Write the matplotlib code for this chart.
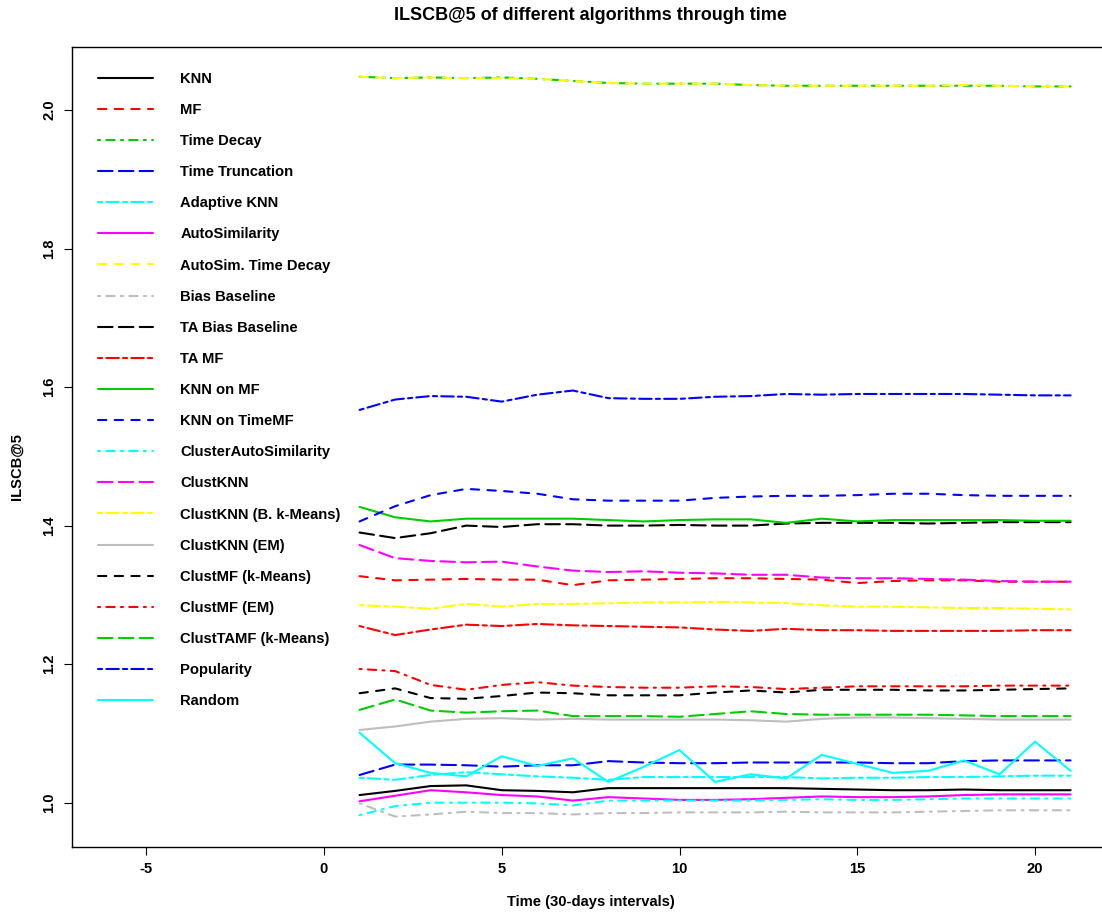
import numpy as np
from matplotlib import pyplot as plt

plt.rcParams['font.family'] = ['Liberation Sans', 'DejaVu Sans']

time = np.arange(1, 22)

names = ['KNN', 'MF', 'Time Decay', 'Time Truncation', 'Adaptive KNN',
         'AutoSimilarity', 'AutoSim. Time Decay', 'Bias Baseline',
         'TA Bias Baseline', 'TA MF', 'KNN on MF', 'KNN on TimeMF',
         'ClusterAutoSimilarity', 'ClustKNN', 'ClustKNN (B. k-Means)',
         'ClustKNN (EM)', 'ClustMF (k-Means)', 'ClustMF (EM)',
         'ClustTAMF (k-Means)', 'Popularity', 'Random']

knn = [1.011, 1.017, 1.024, 1.025, 1.018, 1.017, 1.015, 1.021, 1.021, 1.021, 1.021,
       1.021, 1.021, 1.020, 1.019, 1.018, 1.018, 1.019, 1.018, 1.018, 1.018]
mf = [1.327, 1.321, 1.322, 1.323, 1.322, 1.322, 1.314, 1.321, 1.322, 1.323, 1.324,
      1.324, 1.323, 1.322, 1.317, 1.320, 1.321, 1.321, 1.319, 1.319, 1.319]
time_decay = [2.048, 2.046, 2.047, 2.046, 2.047, 2.045, 2.042, 2.039, 2.038, 2.038, 2.038,
              2.036, 2.035, 2.035, 2.035, 2.035, 2.035, 2.035, 2.035, 2.034, 2.034]
time_trunc = [1.040, 1.055, 1.055, 1.054, 1.052, 1.054, 1.054, 1.060, 1.058, 1.057, 1.057,
              1.058, 1.058, 1.058, 1.058, 1.057, 1.057, 1.060, 1.061, 1.061, 1.061]
adaptive_knn = [1.036, 1.033, 1.040, 1.044, 1.041, 1.038, 1.036, 1.033, 1.037, 1.037, 1.037,
                1.037, 1.037, 1.035, 1.036, 1.036, 1.037, 1.037, 1.038, 1.039, 1.039]
autosim = [1.002, 1.010, 1.018, 1.015, 1.011, 1.009, 1.003, 1.008, 1.006, 1.004, 1.004,
           1.005, 1.007, 1.009, 1.008, 1.008, 1.009, 1.011, 1.012, 1.012, 1.012]
autosim_td = [2.048, 2.046, 2.047, 2.046, 2.046, 2.045, 2.042, 2.039, 2.038, 2.038, 2.038,
              2.036, 2.035, 2.035, 2.035, 2.035, 2.035, 2.036, 2.035, 2.034, 2.034]
bias_baseline = [0.999, 0.980, 0.983, 0.987, 0.985, 0.985, 0.983, 0.985, 0.985, 0.986, 0.986,
                 0.986, 0.987, 0.986, 0.986, 0.986, 0.987, 0.988, 0.989, 0.989, 0.989]
ta_bias = [1.390, 1.382, 1.389, 1.400, 1.398, 1.402, 1.402, 1.400, 1.400, 1.401, 1.400,
           1.400, 1.403, 1.404, 1.404, 1.404, 1.403, 1.404, 1.405, 1.405, 1.405]
ta_mf = [1.255, 1.242, 1.250, 1.257, 1.255, 1.258, 1.256, 1.255, 1.254, 1.253, 1.250,
         1.248, 1.251, 1.249, 1.249, 1.248, 1.248, 1.248, 1.248, 1.249, 1.249]
knn_on_mf = [1.427, 1.412, 1.406, 1.410, 1.410, 1.410, 1.410, 1.408, 1.406, 1.408, 1.409,
             1.409, 1.404, 1.410, 1.406, 1.408, 1.408, 1.408, 1.408, 1.407, 1.407]
knn_on_timemf = [1.406, 1.428, 1.444, 1.453, 1.450, 1.446, 1.438, 1.436, 1.436, 1.436, 1.440,
                 1.442, 1.443, 1.443, 1.444, 1.446, 1.446, 1.444, 1.443, 1.443, 1.443]
cluster_autosim = [0.982, 0.995, 1.000, 1.000, 1.000, 0.999, 0.996, 1.003, 1.003, 1.003, 1.003,
                   1.003, 1.004, 1.005, 1.004, 1.004, 1.005, 1.006, 1.006, 1.006, 1.006]
clust_knn = [1.372, 1.353, 1.349, 1.347, 1.348, 1.341, 1.335, 1.333, 1.334, 1.332, 1.331,
             1.329, 1.329, 1.325, 1.324, 1.324, 1.323, 1.322, 1.320, 1.319, 1.319]
clust_knn_bkm = [1.285, 1.283, 1.280, 1.287, 1.283, 1.287, 1.287, 1.288, 1.289, 1.289, 1.290,
                 1.289, 1.288, 1.285, 1.283, 1.283, 1.282, 1.281, 1.281, 1.280, 1.279]
clust_knn_em = [1.105, 1.110, 1.117, 1.121, 1.122, 1.120, 1.121, 1.120, 1.120, 1.120, 1.120,
                1.119, 1.117, 1.121, 1.123, 1.123, 1.122, 1.121, 1.120, 1.120, 1.120]
clust_mf_km = [1.158, 1.165, 1.151, 1.150, 1.154, 1.159, 1.158, 1.155, 1.155, 1.155, 1.159,
               1.162, 1.159, 1.163, 1.163, 1.163, 1.162, 1.162, 1.163, 1.164, 1.165]
clust_mf_em = [1.193, 1.190, 1.170, 1.163, 1.170, 1.174, 1.169, 1.167, 1.166, 1.166, 1.168,
               1.167, 1.164, 1.166, 1.168, 1.168, 1.168, 1.168, 1.169, 1.169, 1.169]
clust_tamf = [1.134, 1.149, 1.133, 1.130, 1.132, 1.133, 1.125, 1.125, 1.125, 1.124, 1.128,
              1.132, 1.128, 1.127, 1.127, 1.127, 1.127, 1.126, 1.125, 1.125, 1.125]
popularity = [1.567, 1.582, 1.587, 1.586, 1.579, 1.589, 1.595, 1.584, 1.583, 1.583, 1.586,
              1.587, 1.590, 1.589, 1.590, 1.590, 1.590, 1.590, 1.589, 1.588, 1.588]
random_alg = [1.101, 1.057, 1.043, 1.038, 1.067, 1.053, 1.064, 1.030, 1.052, 1.076, 1.030,
              1.041, 1.035, 1.069, 1.056, 1.043, 1.046, 1.061, 1.041, 1.088, 1.046]

series = [knn, mf, time_decay, time_trunc, adaptive_knn, autosim, autosim_td,
          bias_baseline, ta_bias, ta_mf, knn_on_mf, knn_on_timemf, cluster_autosim,
          clust_knn, clust_knn_bkm, clust_knn_em, clust_mf_km, clust_mf_em,
          clust_tamf, popularity, random_alg]

# R palette and line types (solid, dashed, dotdash, longdash, twodash)
palette = ['#000000', '#FF0000', '#00CD00', '#0000FF', '#00FFFF', '#FF00FF', '#FFFF00', '#BEBEBE']
ltys = [None, (4, 4), (1, 3, 4, 3), (7, 3), (2, 2, 6, 2)]

fs = 10.6

fig = plt.figure(figsize=(11.02, 9.17), dpi=100)
# right edge of the frame falls just outside the picture, as in the original
ax = fig.add_axes([0.0656, 0.0767, 0.9417, 0.8724])

for i, (name, vals) in enumerate(zip(names, series)):
    col = palette[i % 8]
    lt = ltys[i % 5]
    line, = ax.plot(time, vals, color=col, lw=1.5, label=name,
                    solid_capstyle='round', dash_capstyle='round')
    if lt is not None:
        line.set_dashes(lt)

ax.set_xlim(-7.08, 22.11)
ax.set_ylim(0.9365, 2.0914)
ax.set_xticks([-5, 0, 5, 10, 15, 20])
ax.set_xticklabels(['-5', '0', '5', '10', '15', '20'], fontweight='bold')
ax.set_yticks([1.0, 1.2, 1.4, 1.6, 1.8, 2.0])
ax.set_yticklabels(['1.0', '1.2', '1.4', '1.6', '1.8', '2.0'], rotation=90, va='center',
                   fontweight='bold')
ax.tick_params(direction='out', length=5.8, width=0.8, labelsize=fs, pad=5.5)
for s in ax.spines.values():
    s.set_linewidth(1.0)

leg = ax.legend(loc='upper left', bbox_to_anchor=(0.0249, 0.9685), frameon=False,
                prop={'size': fs, 'weight': 'bold'}, handlelength=3.74, handletextpad=1.84,
                labelspacing=1.163, borderpad=0, borderaxespad=0)

fig.text(0.536, 1 - 15 / 917, 'ILSCB@5 of different algorithms through time',
         ha='center', va='center', fontsize=13, fontweight='bold')
fig.text(0.536, 1 - 902 / 917, 'Time (30-days intervals)', ha='center', va='center',
         fontsize=fs, fontweight='bold')
fig.text(17 / 1102, 1 - 467 / 917, 'ILSCB@5', ha='center', va='center', rotation=90,
         fontsize=fs, fontweight='bold')

fig.savefig('out.png', dpi=100)
